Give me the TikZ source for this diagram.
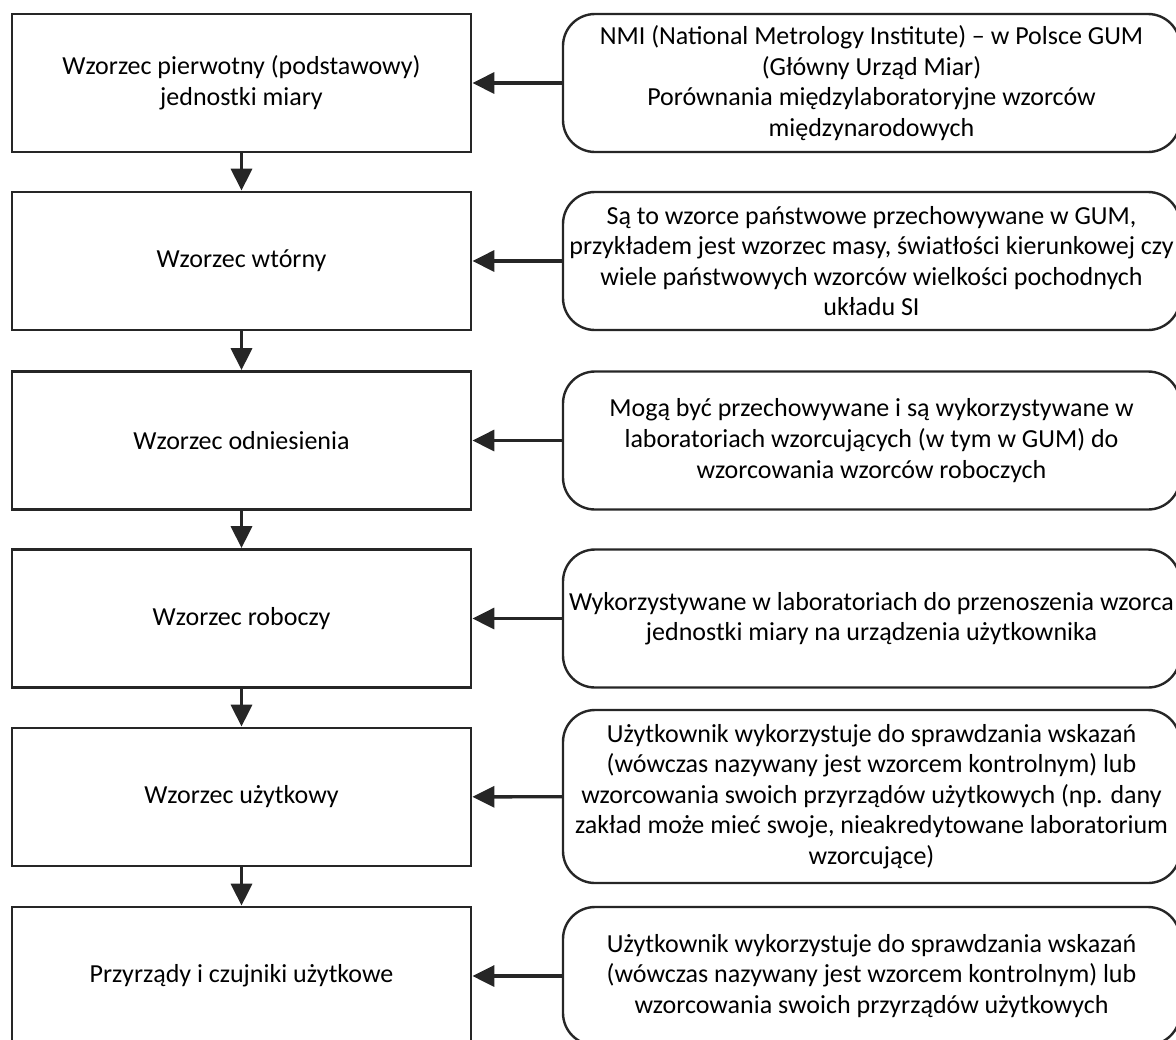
\documentclass[tikz,border=0pt]{standalone}
\usepackage{fontspec}
\setmainfont{Carlito}
\usetikzlibrary{arrows.meta}

\begin{document}
\begin{tikzpicture}[
    x=0.5pt, y=-0.5pt,
    box/.style={rectangle, draw=black!85, line width=1.4pt, minimum width=229.5pt, minimum height=69pt, align=center, inner sep=0pt, font=\fontsize{13}{15.3}\selectfont},
    stage/.style={box},
    note/.style={box, rounded corners=16pt, line width=1.2pt, minimum width=308.5pt},
    arrow/.style={-{Triangle[length=11pt,width=10.5pt]}, line width=1.7pt, black!85},
]
\clip (0,0) rectangle (1176,1039);

% Levels of the hierarchy
\node[stage] (prim) at (241.5, 83) {Wzorzec pierwotny (podstawowy)\\jednostki miary};
\node[stage] (sec) at (241.5, 261) {Wzorzec wtórny};
\node[stage] (ref) at (241.5, 440.5) {Wzorzec odniesienia};
\node[stage] (work) at (241.5, 618.5) {Wzorzec roboczy};
\node[stage] (user) at (241.5, 797) {Wzorzec użytkowy};
\node[stage] (inst) at (241.5, 976) {Przyrządy i czujniki użytkowe};

% Descriptions
\node[note] (nprim) at (871.5, 83) {NMI (National Metrology Institute) – w Polsce GUM\\(Główny Urząd Miar)\\Porównania międzylaboratoryjne wzorców\\międzynarodowych};
\node[note] (nsec) at (871.5, 261) {Są to wzorce państwowe przechowywane w GUM,\\przykładem jest wzorzec masy, światłości kierunkowej czy\\wiele państwowych wzorców wielkości pochodnych\\układu SI};
\node[note] (nref) at (871.5, 440.5) {Mogą być przechowywane i są wykorzystywane w\\laboratoriach wzorcujących (w tym w GUM) do\\wzorcowania wzorców roboczych};
\node[note] (nwork) at (871.5, 618.5) {Wykorzystywane w laboratoriach do przenoszenia wzorca\\jednostki miary na urządzenia użytkownika};
\node[note, minimum height=86.5pt] (nuser) at (871.5, 796.5) {Użytkownik wykorzystuje do sprawdzania wskazań\\(wówczas nazywany jest wzorcem kontrolnym) lub\\wzorcowania swoich przyrządów użytkowych (np. dany\\zakład może mieć swoje, nieakredytowane laboratorium\\wzorcujące)};
\node[note] (ninst) at (871.5, 976) {Użytkownik wykorzystuje do sprawdzania wskazań\\(wówczas nazywany jest wzorcem kontrolnym) lub\\wzorcowania swoich przyrządów użytkowych};

\draw[arrow] (prim) -- (sec);
\draw[arrow] (sec) -- (ref);
\draw[arrow] (ref) -- (work);
\draw[arrow] (work) -- (user);
\draw[arrow] (user) -- (inst);

\draw[arrow] (nprim) -- (prim);
\draw[arrow] (nsec) -- (sec);
\draw[arrow] (nref) -- (ref);
\draw[arrow] (nwork) -- (work);
\draw[arrow] (nuser) -- (user);
\draw[arrow] (ninst) -- (inst);

\end{tikzpicture}
\end{document}
